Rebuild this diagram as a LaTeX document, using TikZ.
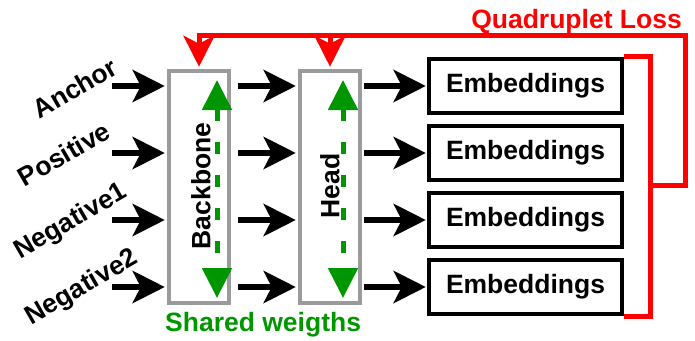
\documentclass[tikz,border=0pt]{standalone}
\usepackage{fontspec}
\setmainfont{Liberation Sans}
\usetikzlibrary{arrows.meta}
\definecolor{boxgray}{RGB}{155,155,155}
\definecolor{wgreen}{RGB}{0,150,0}
\definecolor{lossred}{RGB}{255,0,0}
\begin{document}
\begin{tikzpicture}[x=1pt,y=-1pt,
  txt/.style={font=\fontsize{26.5}{30}\selectfont\bfseries},
  lbl/.style={txt,rotate=30,inner sep=0pt},
  netbox/.style={draw=boxgray,line width=4.5pt,minimum width=60pt,minimum height=232pt,inner sep=0pt},
  embbox/.style={draw=black,line width=4.5pt,minimum width=193pt,minimum height=54pt,inner sep=0pt,txt},
  arr/.style={line width=6pt,-{Stealth[length=32pt,width=32pt,inset=8pt]}},
  garr/.style={wgreen,line width=5pt,dash pattern=on 12pt off 21pt,{Triangle[length=30pt,width=29pt]}-{Triangle[length=30pt,width=29pt]}},
  redl/.style={lossred,line width=5pt},
  rarr/.style={redl,-{Stealth[length=31pt,width=31pt,inset=8pt]}}]
\useasboundingbox (0,0) rectangle (695,340);

% network boxes
\node[netbox] (bb) at (199,187) {};
\node[netbox] (hd) at (330,187) {};
\node[txt,rotate=90,inner sep=0pt] (bbt) at (201,186) {Backbone};
\node[txt,rotate=90,inner sep=0pt] (hdt) at (330,186) {Head};

% embeddings
\node[embbox] (e1) at (525.5,86) {Embeddings};
\node[embbox] (e2) at (525.5,153) {Embeddings};
\node[embbox] (e3) at (525.5,220) {Embeddings};
\node[embbox] (e4) at (525.5,287) {Embeddings};

% input labels
\node[lbl] (la) at (75,88) {Anchor};
\node[lbl] (lp) at (64,154) {Positive};
\node[lbl] (ln1) at (71,222) {Negative1};
\node[lbl] (ln2) at (82,288) {Negative2};

% input arrow starts
\coordinate (i1) at (112,86);
\coordinate (i2) at (112,153);
\coordinate (i3) at (112,220);
\coordinate (i4) at (112,287);

\foreach \i/\e in {i1/e1,i2/e2,i3/e3,i4/e4}{
  \draw[arr,shorten >=2pt] (\i) -- (\i -| bb.west);
  \draw[arr,shorten <=7pt,shorten >=2pt] (\i -| bb.east) -- (\i -| hd.west);
  \draw[arr,shorten <=2pt,shorten >=1pt] (\i -| hd.east) -- (\e.west);
}

% shared weights arrows
\coordinate (g1) at (217,80);
\coordinate (g2) at (217,298);
\coordinate (g3) at (343,80);
\coordinate (g4) at (343,298);
\draw[garr] (g1) -- (g2);
\draw[garr] (g3) -- (g4);
\node[txt,text=wgreen,anchor=base west,inner sep=0pt] (sw) at (165,331) {Shared weigths};

% loss
\coordinate (br) at (650,185);
\coordinate (lr) at (685,185);
\coordinate (lt) at (685,35);
\coordinate (hm) at (330,35);
\draw[redl] (e1.north east) -- (e1.north east -| br) -- (e4.south east -| br) -- (e4.south east);
\draw[rarr,shorten >=2pt] (br) -- (lr) -- (lt) -| (bb.north);
\draw[rarr,shorten >=2pt] (hm) -- (hd.north);
\node[txt,text=lossred,anchor=base east,inner sep=0pt] (ql) at (682,28) {Quadruplet Loss};
\end{tikzpicture}
\end{document}
